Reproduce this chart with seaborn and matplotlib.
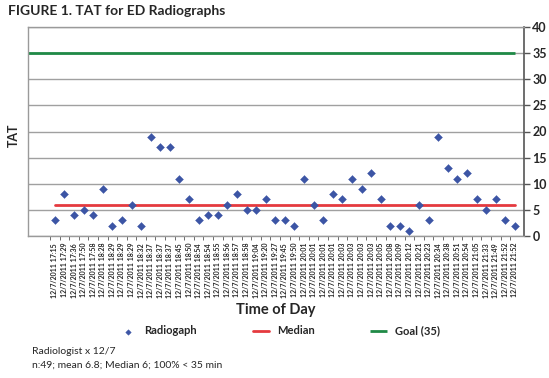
import numpy as np
import pandas as pd
import matplotlib
matplotlib.use("Agg")
import matplotlib.pyplot as plt
import seaborn as sns

# ─────────────────────────────────────────────────────────────────────────────
# Datos
# ─────────────────────────────────────────────────────────────────────────────
times = ["17:15", "17:29", "17:36", "17:50", "17:58", "18:28", "18:29", "18:29",
         "18:29", "18:32", "18:37", "18:37", "18:37", "18:45", "18:50", "18:54",
         "18:54", "18:55", "18:56", "18:57", "18:58", "19:04", "19:20", "19:27",
         "19:45", "19:50", "20:01", "20:01", "20:01", "20:01", "20:03", "20:03",
         "20:03", "20:03", "20:05", "20:08", "20:09", "20:12", "20:21", "20:23",
         "20:34", "20:38", "20:51", "20:54", "21:05", "21:33", "21:49", "21:52",
         "21:52"]
date = "12/7/2011"
tat = [3, 8, 4, 5, 4, 9, 2, 3, 6, 2, 19, 17, 17, 11, 7, 3, 4, 4, 6, 8, 5, 5, 7, 3, 3,
       2, 11, 6, 3, 8, 7, 11, 9, 12, 7, 2, 2, 1, 6, 3, 19, 13, 11, 12, 7, 5, 7, 3, 2]
median_tat = 6
goal_tat = 35

BLUE = '#3C55A5'
RED = '#E53A3F'
GREEN = '#1F8A46'

df = pd.DataFrame({'label': [f'{date} {t}' for t in times], 'tat': tat})
df['pos'] = np.arange(len(df))
df['median'] = median_tat

sns.set_style('white')
plt.rcParams['font.family'] = ['Lato', 'DejaVu Sans']

fig = plt.figure(figsize=(5.49, 3.78), dpi=100)
ax = fig.add_axes([28 / 549, 1 - 236 / 378, (524 - 28) / 549, (236 - 27) / 378])

ax.set_xlim(-2.8, len(df) - 0.05)
ax.set_ylim(0, 40)

# Líneas de referencia
ax.hlines(goal_tat, ax.get_xlim()[0], df['pos'].iloc[-1], color=GREEN, lw=2,
          label='Goal (35)', zorder=2)
sns.lineplot(data=df, x='pos', y='median', color=RED, lw=2, ax=ax,
             label='Median', zorder=2)
sns.scatterplot(data=df, x='pos', y='tat', marker='D', s=16, color=BLUE,
                edgecolor=BLUE, ax=ax, label='Radiogaph', zorder=3)

# Rejilla y ejes
ax.set_yticks(np.arange(0, 41, 5))
ax.grid(axis='y', color='#A0A0A0', lw=1)
ax.grid(axis='x', visible=False)
ax.yaxis.tick_right()
ax.tick_params(axis='y', which='major', length=4, width=1, color='#555555',
               pad=2, labelsize=9, right=True, left=False)
for lbl in ax.get_yticklabels():
    lbl.set_fontweight('bold')

ax.set_xticks(df['pos'])
ax.set_xticklabels(df['label'], rotation=90, fontsize=5, fontweight='bold')
ax.set_xticks(df['pos'] - 0.5, minor=True)
ax.tick_params(axis='x', which='major', length=0, pad=5)
ax.tick_params(axis='x', which='minor', length=3, color='#555555', bottom=True)

for side in ['left', 'top', 'bottom']:
    ax.spines[side].set_color('#9A9A9A')
    ax.spines[side].set_linewidth(1)
ax.spines['right'].set_color('#555555')
ax.spines['right'].set_linewidth(1.2)

ax.set_xlabel('Time of Day', fontsize=10.5, fontweight='bold', labelpad=4)
ax.set_ylabel('')
fig.text(14 / 549, 1 - 135 / 378, 'TAT', rotation=90, fontsize=9,
         fontweight='bold', ha='center', va='center')

# Leyenda
handles, labels = ax.get_legend_handles_labels()
order = [labels.index('Radiogaph'), labels.index('Median'), labels.index('Goal (35)')]
leg = fig.legend([handles[i] for i in order], [labels[i] for i in order],
                 loc='center', bbox_to_anchor=(0.51, 1 - 331 / 378), ncol=3,
                 frameon=False, fontsize=8, columnspacing=5.0,
                 handlelength=1.5, handletextpad=0.7, markerscale=0.7)
for t in leg.get_texts():
    t.set_fontweight('bold')
if ax.legend_:
    ax.legend_.remove()

fig.text(8 / 549, 1 - 11 / 378, 'FIGURE 1. TAT for ED Radiographs', fontsize=10,
         fontweight='bold', ha='left', va='center')
fig.text(32 / 549, 1 - 351 / 378, 'Radiologist x 12/7', fontsize=7.5,
         ha='left', va='center')
fig.text(32 / 549, 1 - 365 / 378, 'n:49; mean 6.8; Median 6; 100% < 35 min',
         fontsize=7.5, ha='left', va='center')

fig.savefig('out.png', dpi=100)
